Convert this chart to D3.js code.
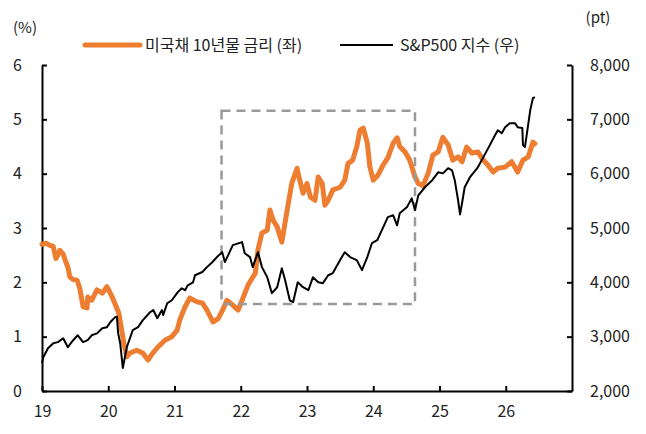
<!DOCTYPE html>
<html>
<head>
<meta charset="utf-8">
<script src="https://cdn.jsdelivr.net/npm/d3@7"></script>
<style>
  body { margin: 0; background: #fff; }
  text { font-family: "Noto Sans CJK KR", "Noto Sans", sans-serif; fill: #222; }
</style>
</head>
<body>
<script>
// 미국채 10년물 금리 (%)
const yieldDates = [
  2019.00, 2019.06, 2019.12, 2019.17, 2019.21, 2019.24, 2019.27, 2019.32, 2019.35, 2019.39,
  2019.42, 2019.47, 2019.53, 2019.57, 2019.62, 2019.68, 2019.69, 2019.75, 2019.83, 2019.91,
  2019.98, 2020.06, 2020.12, 2020.16, 2020.21, 2020.24, 2020.28, 2020.33, 2020.43, 2020.52,
  2020.60, 2020.66, 2020.75, 2020.86, 2020.96, 2021.04, 2021.08, 2021.16, 2021.23, 2021.34,
  2021.42, 2021.49, 2021.58, 2021.66, 2021.73, 2021.79, 2021.88, 2021.96, 2022.02, 2022.11,
  2022.22, 2022.26, 2022.32, 2022.40, 2022.44, 2022.49, 2022.55, 2022.62, 2022.70, 2022.77,
  2022.85, 2022.89, 2022.94, 2023.00, 2023.05, 2023.12, 2023.17, 2023.23, 2023.27, 2023.32,
  2023.39, 2023.50, 2023.57, 2023.62, 2023.69, 2023.75, 2023.80, 2023.85, 2023.91, 2023.95,
  2024.00, 2024.07, 2024.15, 2024.22, 2024.30, 2024.36, 2024.40, 2024.48, 2024.55, 2024.63,
  2024.68, 2024.75, 2024.83, 2024.90, 2024.98, 2025.05, 2025.13, 2025.20, 2025.28, 2025.34,
  2025.41, 2025.49, 2025.58, 2025.66, 2025.73, 2025.81, 2025.88, 2025.99, 2026.09, 2026.18,
  2026.26, 2026.34, 2026.41, 2026.44
];
const yieldValues = [
  2.70, 2.72, 2.68, 2.66, 2.44, 2.50, 2.59, 2.52, 2.41, 2.28,
  2.10, 2.05, 2.04, 1.89, 1.55, 1.53, 1.73, 1.67, 1.86, 1.80,
  1.92, 1.73, 1.55, 1.43, 1.07, 0.85, 0.63, 0.70, 0.75, 0.70,
  0.57, 0.68, 0.81, 0.94, 1.00, 1.12, 1.31, 1.55, 1.71, 1.64,
  1.62, 1.49, 1.27, 1.33, 1.50, 1.67, 1.58, 1.49, 1.67, 1.95,
  2.17, 2.60, 2.91, 2.96, 3.33, 3.14, 3.02, 2.74, 3.33, 3.82,
  4.10, 3.88, 3.64, 3.82, 3.57, 3.51, 3.94, 3.82, 3.42, 3.51,
  3.70, 3.75, 3.88, 4.19, 4.25, 4.49, 4.80, 4.84, 4.56, 4.12,
  3.88, 3.97, 4.16, 4.29, 4.56, 4.66, 4.50, 4.40, 4.25, 3.94,
  3.82, 3.78, 4.01, 4.34, 4.40, 4.67, 4.53, 4.25, 4.31, 4.22,
  4.49, 4.38, 4.40, 4.25, 4.16, 4.03, 4.10, 4.12, 4.22, 4.03,
  4.25, 4.31, 4.58, 4.55
];

// S&P500 지수 (pt)
const spxDates = [
  2019.00, 2019.02, 2019.09, 2019.17, 2019.24, 2019.32, 2019.39, 2019.47, 2019.54, 2019.62,
  2019.69, 2019.75, 2019.83, 2019.91, 2019.98, 2020.03, 2020.10, 2020.13, 2020.15, 2020.18,
  2020.22, 2020.25, 2020.28, 2020.37, 2020.45, 2020.52, 2020.63, 2020.68, 2020.74, 2020.81,
  2020.83, 2020.89, 2020.96, 2021.05, 2021.11, 2021.16, 2021.20, 2021.28, 2021.31, 2021.42,
  2021.49, 2021.57, 2021.64, 2021.72, 2021.76, 2021.81, 2021.88, 2022.02, 2022.06, 2022.14,
  2022.18, 2022.26, 2022.32, 2022.40, 2022.47, 2022.55, 2022.62, 2022.67, 2022.74, 2022.79,
  2022.86, 2022.94, 2023.02, 2023.09, 2023.17, 2023.24, 2023.32, 2023.39, 2023.50, 2023.57,
  2023.65, 2023.75, 2023.83, 2023.91, 2023.98, 2024.06, 2024.13, 2024.22, 2024.30, 2024.36,
  2024.40, 2024.51, 2024.58, 2024.63, 2024.68, 2024.78, 2024.89, 2024.98, 2025.05, 2025.13,
  2025.19, 2025.23, 2025.28, 2025.31, 2025.34, 2025.38, 2025.46, 2025.57, 2025.66, 2025.76,
  2025.84, 2025.88, 2025.94, 2025.99, 2026.06, 2026.14, 2026.18, 2026.25, 2026.26, 2026.29,
  2026.32, 2026.37, 2026.41, 2026.44
];
const spxValues = [
  2510, 2620, 2787, 2880, 2900, 2970, 2805, 2935, 3025, 2900,
  2935, 3025, 3060, 3155, 3175, 3265, 3355, 3370, 3060, 2880,
  2424, 2620, 2805, 3120, 3175, 3300, 3450, 3490, 3340, 3490,
  3400, 3615, 3670, 3820, 3890, 3855, 3945, 4000, 4130, 4190,
  4280, 4370, 4465, 4555, 4375, 4500, 4685, 4740, 4535, 4465,
  4280, 4555, 4280, 4095, 3800, 3910, 4260, 4040, 3670, 3635,
  4000, 3910, 3855, 4095, 4000, 3985, 4130, 4170, 4410, 4555,
  4465, 4410, 4225, 4465, 4720, 4775, 4960, 5200, 5235, 5050,
  5270, 5385, 5545, 5330, 5600, 5750, 5880, 6025, 6005, 6100,
  6060, 5880, 5515, 5250, 5455, 5750, 5935, 6100, 6300, 6525,
  6710, 6800, 6745, 6855, 6930, 6930, 6855, 6840, 6525, 6490,
  6745, 7170, 7390, 7410
];

const yearTicks = [2019, 2020, 2021, 2022, 2023, 2024, 2025, 2026];
const leftTicks = [0, 1, 2, 3, 4, 5, 6];
const rightTicks = [2000, 3000, 4000, 5000, 6000, 7000, 8000];

// 점선 박스 구간 (2021.7 ~ 2024.6)
const boxDates = [2021.71, 2024.63];
const boxRange = [1.6, 5.16];

const labels = {
  yieldName: "미국채 10년물 금리 (좌)",
  spxName: "S&P500 지수 (우)",
  leftUnit: "(%)",
  rightUnit: "(pt)"
};

const width = 646, height = 434;
const margin = {top: 65, right: 74, bottom: 43, left: 42};
const chartWidth = width - margin.left - margin.right;
const chartHeight = height - margin.top - margin.bottom;

const x = d3.scaleLinear().domain([2019, 2027]).range([0, chartWidth]);
const yL = d3.scaleLinear().domain([0, 6]).range([chartHeight, 0]);
const yR = d3.scaleLinear().domain([2000, 8000]).range([chartHeight, 0]);

const orange = "#ED7D31";

const svg = d3.select("body").append("svg")
    .attr("width", width)
    .attr("height", height);

const g = svg.append("g")
    .attr("transform", "translate(" + margin.left + "," + margin.top + ")");

const yieldData = yieldDates.map((d, i) => ({date: d, value: yieldValues[i]}));
const spxData = spxDates.map((d, i) => ({date: d, value: spxValues[i]}));

// axes
const xAxis = g.append("g")
    .attr("transform", "translate(0," + chartHeight + ")")
    .call(d3.axisBottom(x).tickValues(yearTicks).tickSize(-5).tickSizeOuter(0).tickPadding(15)
      .tickFormat(d => String(d).slice(2)));

const leftAxis = g.append("g")
    .call(d3.axisLeft(yL).tickValues(leftTicks).tickSize(-5).tickSizeOuter(0).tickPadding(20)
      .tickFormat(d3.format("d")));

const rightAxis = g.append("g")
    .attr("transform", "translate(" + chartWidth + ",0)")
    .call(d3.axisRight(yR).tickValues(rightTicks).tickSize(-5).tickSizeOuter(0).tickPadding(18)
      .tickFormat(d3.format(",")));

[xAxis, leftAxis, rightAxis].forEach(a => {
  a.select(".domain").attr("stroke", "#000").attr("stroke-width", 2);
  a.selectAll(".tick line").attr("stroke", "#000").attr("stroke-width", 2);
  a.selectAll(".tick text").style("font-size", "16px").attr("fill", "#222");
});

// lines
const yieldLine = d3.line().x(d => x(d.date)).y(d => yL(d.value));
const spxLine = d3.line().x(d => x(d.date)).y(d => yR(d.value));

g.append("path")
    .datum(yieldData)
    .attr("d", yieldLine)
    .attr("fill", "none")
    .attr("stroke", orange)
    .attr("stroke-width", 5)
    .attr("stroke-linejoin", "round")
    .attr("stroke-linecap", "round");

g.append("rect")
    .attr("x", x(boxDates[0]))
    .attr("y", yL(boxRange[1]))
    .attr("width", x(boxDates[1]) - x(boxDates[0]))
    .attr("height", yL(boxRange[0]) - yL(boxRange[1]))
    .attr("fill", "none")
    .attr("stroke", "#9a9a9a")
    .attr("stroke-width", 2.5)
    .attr("stroke-dasharray", "9,6");

g.append("path")
    .datum(spxData)
    .attr("d", spxLine)
    .attr("fill", "none")
    .attr("stroke", "#000")
    .attr("stroke-width", 2)
    .attr("stroke-linejoin", "round");

// unit labels
svg.append("text")
    .attr("x", 25).attr("y", 33)
    .attr("text-anchor", "middle")
    .style("font-size", "15px")
    .text(labels.leftUnit);

svg.append("text")
    .attr("x", 598).attr("y", 23)
    .attr("text-anchor", "middle")
    .style("font-size", "15px")
    .text(labels.rightUnit);

// legend
const legend = svg.append("g").attr("transform", "translate(0,45)");
legend.append("line")
    .attr("x1", 85).attr("x2", 140).attr("y1", 0).attr("y2", 0)
    .attr("stroke", orange).attr("stroke-width", 5).attr("stroke-linecap", "round");
legend.append("text")
    .attr("x", 145).attr("y", 0).attr("dy", "0.35em")
    .style("font-size", "16px")
    .text(labels.yieldName);
legend.append("line")
    .attr("x1", 340).attr("x2", 393).attr("y1", 0).attr("y2", 0)
    .attr("stroke", "#000").attr("stroke-width", 2);
legend.append("text")
    .attr("x", 400).attr("y", 0).attr("dy", "0.35em")
    .style("font-size", "16px")
    .text(labels.spxName);
</script>
</body>
</html>
